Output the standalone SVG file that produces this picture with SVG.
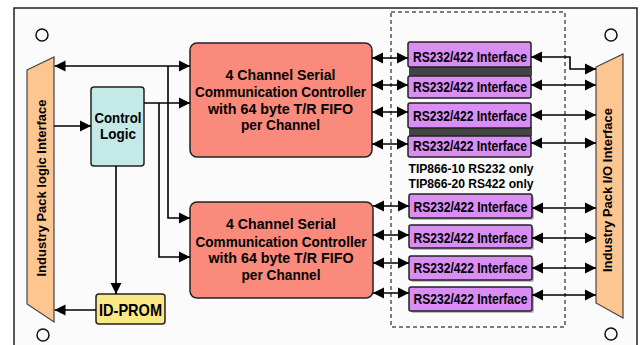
<svg xmlns="http://www.w3.org/2000/svg" width="640" height="345" viewBox="0 0 640 345">
<defs>
<marker id="ah" viewBox="0 0 10 10" refX="10" refY="5" markerWidth="11" markerHeight="12" markerUnits="userSpaceOnUse" orient="auto-start-reverse">
<path d="M0,0 L10,5 L0,10 z" fill="#000"/>
</marker>
</defs>
<style>
text{font-family:"Liberation Sans",Arial,sans-serif;font-weight:bold;fill:#000;text-anchor:middle}
.trap{fill:#fdc690;stroke:#444;stroke-width:1.2}
.ctl{fill:#c4e9e7;stroke:#222;stroke-width:1.5}
.scc{fill:#f98a7c;stroke:#222;stroke-width:1.5}
.rs{fill:#d98ef4;stroke:#222;stroke-width:1.5}
.prom{fill:#fae885;stroke:#222;stroke-width:1.5}
.shadow{fill:#bbb}
.band{fill:#444}
.hole{fill:none;stroke:#111;stroke-width:1.5}
.c{fill:none;stroke:#000;stroke-width:1.6}
.t15{font-size:15px}
.t14{font-size:14px}
.t13{font-size:13px}
.t12{font-size:12px}
</style>
<rect x="0" y="0" width="640" height="345" fill="#fff"/>
<rect x="14" y="8" width="623" height="345" fill="#fbfbfb" stroke="#222" stroke-width="1.5"/>
<circle class="hole" cx="42" cy="35" r="6"/>
<circle class="hole" cx="43" cy="335" r="6"/>
<circle class="hole" cx="611" cy="35" r="6"/>
<circle class="hole" cx="611" cy="334" r="6"/>
<rect x="391" y="12" width="174" height="315" fill="none" stroke="#000" stroke-width="1" stroke-dasharray="4,3"/>

<g id="ip-logic">
<polygon class="trap" points="27,70 54,57 54,322 27,304"/>
<text class="t13" transform="translate(45.5,188) rotate(-90)">Industry Pack logic Interface</text>
</g>
<g id="ip-io">
<polygon class="trap" points="596,67 623,54 623,318 596,303"/>
<text class="t13" transform="translate(612,190) rotate(-90)">Industry Pack I/O Interface</text>
</g>
<g id="control-logic">
<rect class="ctl" x="91" y="87" width="53" height="79" rx="3"/>
<text class="t15" x="118" y="123" textLength="47" lengthAdjust="spacingAndGlyphs">Control</text>
<text class="t15" x="118" y="139" textLength="36" lengthAdjust="spacingAndGlyphs">Logic</text>
</g>
<g id="id-prom">
<rect class="prom" x="96" y="294" width="69" height="30" rx="3"/>
<text x="130.5" y="315.5" style="font-size:17px" textLength="63" lengthAdjust="spacingAndGlyphs">ID-PROM</text>
</g>
<g id="scc-1">
<rect class="scc" x="190" y="43" width="182" height="114" rx="7"/>
<text class="t15" x="280.5" y="80" textLength="110" lengthAdjust="spacingAndGlyphs">4 Channel Serial</text>
<text class="t15" x="280.5" y="97" textLength="171" lengthAdjust="spacingAndGlyphs">Communication Controller</text>
<text class="t15" x="280.5" y="113.5" textLength="145" lengthAdjust="spacingAndGlyphs">with 64 byte T/R FIFO</text>
<text class="t15" x="280.5" y="130" textLength="79" lengthAdjust="spacingAndGlyphs">per Channel</text>
</g>
<g id="scc-2">
<rect class="scc" x="190" y="202" width="183" height="96" rx="7"/>
<text class="t15" x="281" y="229" textLength="110" lengthAdjust="spacingAndGlyphs">4 Channel Serial</text>
<text class="t15" x="281" y="246.5" textLength="171" lengthAdjust="spacingAndGlyphs">Communication Controller</text>
<text class="t15" x="281" y="263" textLength="145" lengthAdjust="spacingAndGlyphs">with 64 byte T/R FIFO</text>
<text class="t15" x="281" y="280" textLength="79" lengthAdjust="spacingAndGlyphs">per Channel</text>
</g>

<g id="rs-1">
<rect class="band" x="409" y="66" width="123" height="10"/>
<rect class="rs" x="408" y="42" width="123" height="25" rx="2"/>
<text class="t14" x="470" y="61.5" textLength="114" lengthAdjust="spacingAndGlyphs">RS232/422 Interface</text>
</g>
<g id="rs-2">
<rect class="rs" x="408" y="76" width="123" height="22" rx="2"/>
<text class="t14" x="470" y="91.5" textLength="114" lengthAdjust="spacingAndGlyphs">RS232/422 Interface</text>
</g>
<g id="rs-3">
<rect class="band" x="409" y="127" width="123" height="9"/>
<rect class="rs" x="408" y="103" width="123" height="25" rx="2"/>
<text class="t14" x="470" y="120.5" textLength="114" lengthAdjust="spacingAndGlyphs">RS232/422 Interface</text>
</g>
<g id="rs-4">
<rect class="rs" x="408" y="136" width="123" height="21" rx="2"/>
<text class="t14" x="470" y="150.5" textLength="114" lengthAdjust="spacingAndGlyphs">RS232/422 Interface</text>
</g>
<g id="variant-note">
<text class="t12" x="471" y="173" textLength="125" lengthAdjust="spacingAndGlyphs">TIP866-10 RS232 only</text>
<text class="t12" x="471" y="187.5" textLength="125" lengthAdjust="spacingAndGlyphs">TIP866-20 RS422 only</text>
</g>
<g id="rs-5">
<rect class="shadow" x="411" y="196" width="123" height="24" rx="2"/>
<rect class="rs" x="409" y="194" width="123" height="24" rx="2"/>
<text class="t14" x="470.5" y="212" textLength="114" lengthAdjust="spacingAndGlyphs">RS232/422 Interface</text>
</g>
<g id="rs-6">
<rect class="shadow" x="411" y="227" width="123" height="23" rx="2"/>
<rect class="rs" x="409" y="225" width="123" height="23" rx="2"/>
<text class="t14" x="470.5" y="243" textLength="114" lengthAdjust="spacingAndGlyphs">RS232/422 Interface</text>
</g>
<g id="rs-7">
<rect class="shadow" x="411" y="258" width="123" height="24" rx="2"/>
<rect class="rs" x="409" y="256" width="123" height="24" rx="2"/>
<text class="t14" x="470.5" y="272.5" textLength="114" lengthAdjust="spacingAndGlyphs">RS232/422 Interface</text>
</g>
<g id="rs-8">
<rect class="shadow" x="411" y="289" width="123" height="24" rx="2"/>
<rect class="rs" x="409" y="287" width="123" height="24" rx="2"/>
<text class="t14" x="470.5" y="303.5" textLength="114" lengthAdjust="spacingAndGlyphs">RS232/422 Interface</text>
</g>

<g id="connectors">
<path class="c" d="M54.5,66 H190" marker-start="url(#ah)" marker-end="url(#ah)"/>
<path class="c" d="M168,66 V218 H190" marker-end="url(#ah)"/>
<path class="c" d="M144,103 H190" marker-end="url(#ah)"/>
<path class="c" d="M159,103 V257 H190" marker-end="url(#ah)"/>
<path class="c" d="M54,126 H91" marker-end="url(#ah)"/>
<path class="c" d="M116,166 V294" marker-end="url(#ah)"/>
<path class="c" d="M96,310 H54.5" marker-end="url(#ah)"/>

<path class="c" d="M372,58 H408" marker-start="url(#ah)" marker-end="url(#ah)"/>
<path class="c" d="M372,85 H408" marker-start="url(#ah)" marker-end="url(#ah)"/>
<path class="c" d="M372,112 H408" marker-start="url(#ah)" marker-end="url(#ah)"/>
<path class="c" d="M372,144 H408" marker-start="url(#ah)" marker-end="url(#ah)"/>
<path class="c" d="M373,206 H409" marker-start="url(#ah)" marker-end="url(#ah)"/>
<path class="c" d="M373,235 H409" marker-start="url(#ah)" marker-end="url(#ah)"/>
<path class="c" d="M373,263 H409" marker-start="url(#ah)" marker-end="url(#ah)"/>
<path class="c" d="M373,293 H409" marker-start="url(#ah)" marker-end="url(#ah)"/>

<path class="c" d="M531,57 H570 V69 H596" marker-start="url(#ah)" marker-end="url(#ah)"/>
<path class="c" d="M531,85 H596" marker-start="url(#ah)" marker-end="url(#ah)"/>
<path class="c" d="M531,115 H596" marker-start="url(#ah)" marker-end="url(#ah)"/>
<path class="c" d="M531,143 H596" marker-start="url(#ah)" marker-end="url(#ah)"/>
<path class="c" d="M532,208 H596" marker-start="url(#ah)" marker-end="url(#ah)"/>
<path class="c" d="M532,238 H596" marker-start="url(#ah)" marker-end="url(#ah)"/>
<path class="c" d="M532,268 H596" marker-start="url(#ah)" marker-end="url(#ah)"/>
<path class="c" d="M532,295 H596" marker-start="url(#ah)" marker-end="url(#ah)"/>
</g>
</svg>
